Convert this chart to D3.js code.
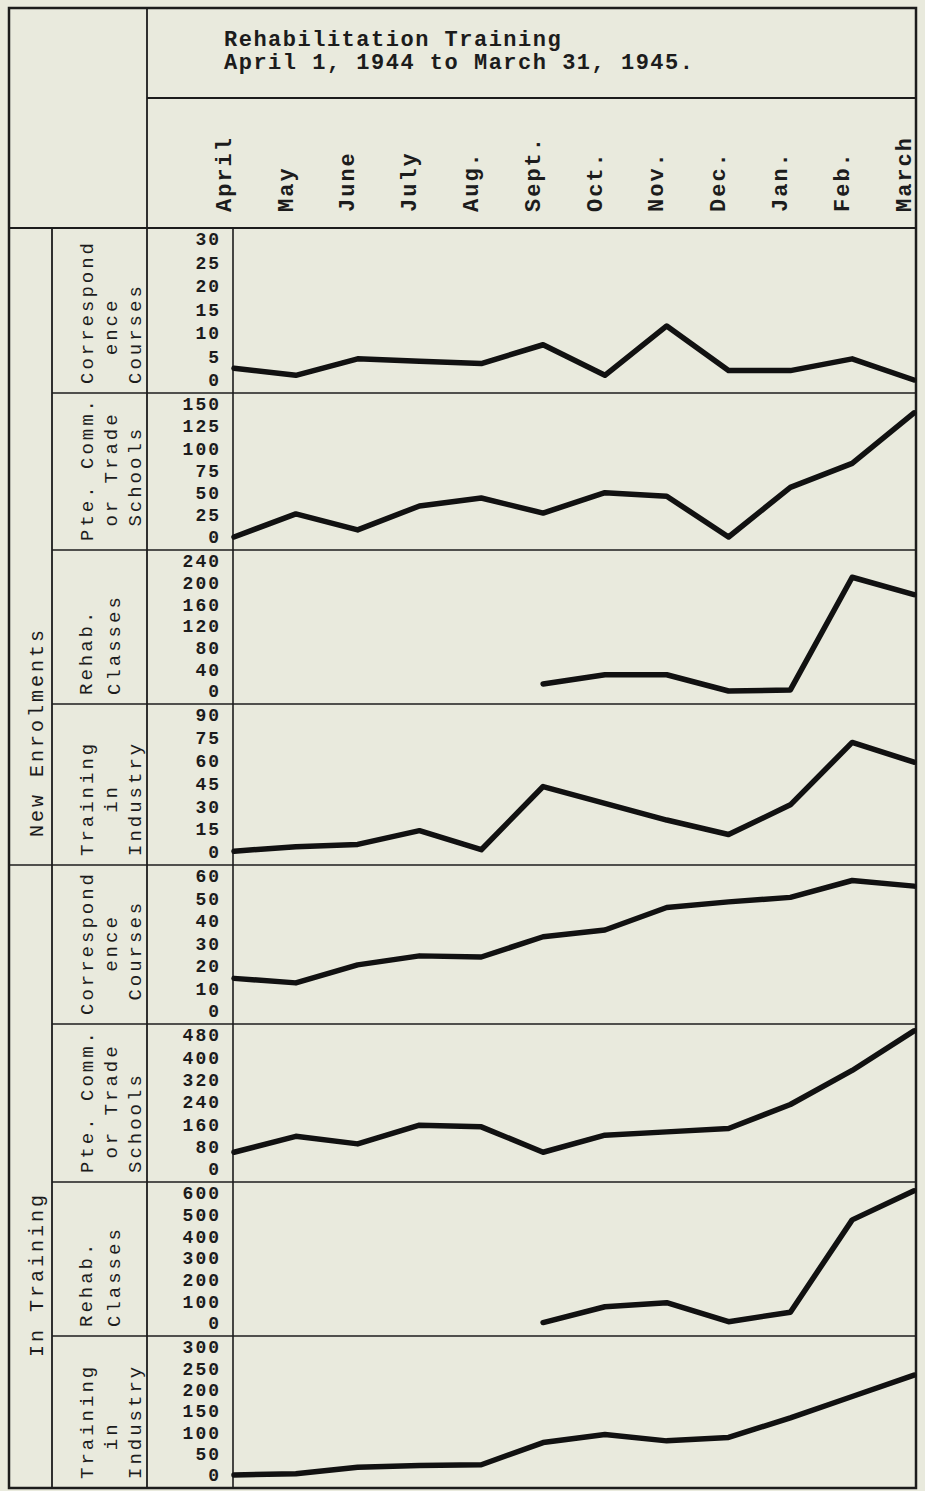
<!DOCTYPE html>
<html>
<head>
<meta charset="utf-8">
<script src="https://cdn.jsdelivr.net/npm/d3@7"></script>
<style>
  body { margin: 0; background: #e9eadd; }
  text { font-family: "Liberation Mono", "DejaVu Sans Mono", monospace; fill: #1c1c1c; }
</style>
</head>
<body>
<div id="chart"></div>
<script>
// data
const titleLines = ["Rehabilitation Training", "April 1, 1944 to March 31, 1945."];
const months = ["April", "May", "June", "July", "Aug.", "Sept.", "Oct.", "Nov.", "Dec.", "Jan.", "Feb.", "March"];
const sections = ["New Enrolments", "In Training"];

const rowLabels = [
  ["Correspond", "  ence", "Courses"],
  ["Pte. Comm.", " or Trade", " Schools"],
  ["Rehab.", "Classes"],
  ["Training", "   in", "Industry"],
  ["Correspond", "   ence", " Courses"],
  ["Pte. Comm.", " or Trade", "Schools"],
  ["Rehab.", "Classes"],
  ["Training", "  in", "Industry"]
];

const tickSets = [
  [0, 5, 10, 15, 20, 25, 30],
  [0, 25, 50, 75, 100, 125, 150],
  [0, 40, 80, 120, 160, 200, 240],
  [0, 15, 30, 45, 60, 75, 90],
  [0, 10, 20, 30, 40, 50, 60],
  [0, 80, 160, 240, 320, 400, 480],
  [0, 100, 200, 300, 400, 500, 600],
  [0, 50, 100, 150, 200, 250, 300]
];

// New Enrolments
const newCorrespondence = [2.5, 1, 4.5, 4, 3.5, 7.5, 1, 11.5, 2, 2, 4.5, 0];
const newTradeSchools = [0, 26, 8, 35, 44, 27, 50, 46, 0, 56, 83, 140];
const newRehabClasses = [null, null, null, null, null, 13, 30, 30, 0, 2, 210, 178];
const newIndustry = [0.5, 3.5, 5, 14, 1.5, 43, 32, 21, 11.5, 31, 72, 59];
// In Training
const trainCorrespondence = [14.5, 12.5, 20.5, 24.5, 24, 33, 36, 46, 48.5, 50.5, 58, 55.5];
const trainTradeSchools = [60, 117, 90, 157, 151, 60, 121, 133, 145, 231, 353, 495];
const trainRehabClasses = [null, null, null, null, null, 2, 75, 94, 6, 50, 476, 610];
const trainIndustry = [0, 3, 18, 22, 24, 76, 95, 80, 88, 134, 184, 234];

const series = [newCorrespondence, newTradeSchools, newRehabClasses, newIndustry,
  trainCorrespondence, trainTradeSchools, trainRehabClasses, trainIndustry];

// layout
const svgWidth = 925;
const svgHeight = 1491;
const frame = { left: 9, right: 916, top: 8, bottom: 1488 };
const colSection = 52;
const colTicks = 147;
const plotLeft = 233;
const plotRight = 915;
const headerSplit = 98;
const headerBottom = 228;
const rowEdges = [228, 393, 550, 704, 865, 1024, 1182, 1336, 1488];
const sectionLabelBase = [837, 1357];
const ink = "#1c1c1c";

const svg = d3.select("#chart")
  .append("svg")
  .attr("width", svgWidth)
  .attr("height", svgHeight);

svg.append("rect")
  .attr("width", svgWidth)
  .attr("height", svgHeight)
  .attr("fill", "#e9eadd");

const x = d3.scalePoint()
  .domain(months)
  .range([plotLeft + 1, plotRight - 1]);

// ruled table
const rules = svg.append("g")
  .attr("stroke", ink)
  .attr("fill", "none");

rules.append("rect")
  .attr("x", frame.left)
  .attr("y", frame.top)
  .attr("width", frame.right - frame.left)
  .attr("height", frame.bottom - frame.top)
  .attr("stroke-width", 2.5);

function rule(x1, y1, x2, y2, w) {
  rules.append("line")
    .attr("x1", x1).attr("y1", y1)
    .attr("x2", x2).attr("y2", y2)
    .attr("stroke-width", w);
}

rule(colTicks, frame.top, colTicks, frame.bottom, 1.8);
rule(colSection, headerBottom, colSection, frame.bottom, 1.8);
rule(plotLeft, headerBottom, plotLeft, frame.bottom, 1.6);
rule(colTicks, headerSplit, frame.right, headerSplit, 1.8);
rule(frame.left, headerBottom, frame.right, headerBottom, 1.8);
rowEdges.slice(1, -1).forEach((y, i) => {
  rule(i === 3 ? frame.left : colSection, y, frame.right, y, 1.6);
});

// title
svg.append("g")
  .selectAll("text")
  .data(titleLines)
  .join("text")
  .attr("x", 224)
  .attr("y", (d, i) => 46 + i * 23)
  .attr("font-size", 22)
  .attr("letter-spacing", 1.5)
  .attr("font-weight", "bold")
  .text(d => d);

// month labels
svg.append("g")
  .selectAll("text")
  .data(months)
  .join("text")
  .attr("transform", d => `translate(${x(d) - 11}, 212) rotate(-90)`)
  .attr("dy", "0.35em")
  .attr("font-size", 22)
  .attr("letter-spacing", 2)
  .attr("font-weight", "bold")
  .text(d => d);

// section labels
sections.forEach((s, i) => {
  svg.append("text")
    .attr("transform", `translate(36, ${sectionLabelBase[i]}) rotate(-90)`)
    .attr("dy", "0.35em")
    .attr("font-size", 20)
    .attr("letter-spacing", 3)
    .text(s);
});

// one panel per row
const line = d3.line()
  .defined(d => d.v != null)
  .x(d => x(d.m))
  .y(d => d.y);

series.forEach((values, r) => {
  const top = rowEdges[r];
  const bottom = rowEdges[r + 1];
  const ticks = tickSets[r];

  const y = d3.scaleLinear()
    .domain([0, d3.max(ticks)])
    .range([bottom - 13, top + 11]);

  // row label
  const lines = rowLabels[r];
  const step = lines.length === 3 ? 24 : 28;
  const first = lines.length === 3 ? 86 : 85;
  svg.append("g")
    .selectAll("text")
    .data(lines)
    .join("text")
    .attr("transform", (d, i) => `translate(${first + i * step}, ${bottom - 9}) rotate(-90)`)
    .attr("dy", "0.35em")
    .attr("font-size", 19)
    .attr("letter-spacing", 3)
    .style("white-space", "pre")
    .text(d => d);

  // tick labels
  const axis = svg.append("g")
    .attr("transform", `translate(${plotLeft - 12}, 0)`)
    .call(d3.axisLeft(y).tickValues(ticks).tickSize(0).tickPadding(0));
  axis.select(".domain").remove();
  axis.selectAll("text")
    .attr("font-family", "Liberation Mono, DejaVu Sans Mono, monospace")
    .attr("font-size", 18)
    .attr("font-weight", "bold")
    .attr("letter-spacing", 2)
    .attr("fill", ink);

  // series line
  const pts = months.map((m, i) => ({ m: m, v: values[i], y: values[i] == null ? 0 : y(values[i]) }));
  svg.append("path")
    .datum(pts)
    .attr("d", line)
    .attr("fill", "none")
    .attr("stroke", "#111")
    .attr("stroke-width", 5.5)
    .attr("stroke-linejoin", "round")
    .attr("stroke-linecap", "round");
});
</script>
</body>
</html>
